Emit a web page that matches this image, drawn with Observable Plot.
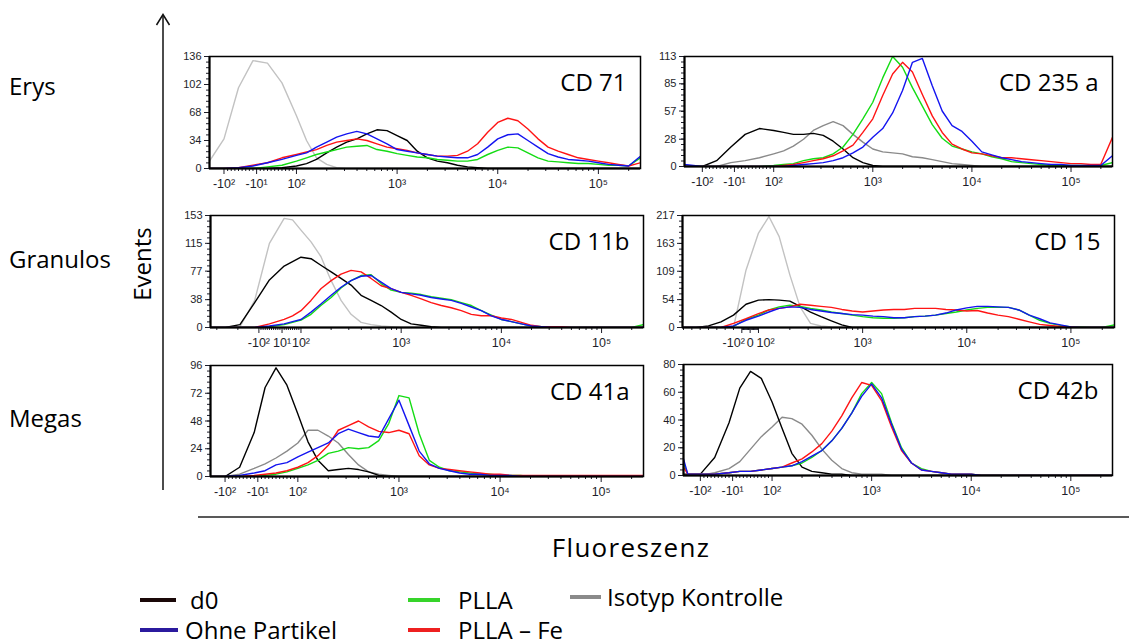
<!DOCTYPE html>
<html><head><meta charset="utf-8">
<script src="https://cdn.jsdelivr.net/npm/d3@7"></script>
<script src="https://cdn.jsdelivr.net/npm/@observablehq/plot@0.6"></script>
<style>
html,body{margin:0;padding:0;background:#fff;}
body{width:1129px;height:644px;overflow:hidden;position:relative;font-family:"Open Sans",sans-serif;}
.panel{position:absolute;}
#deco{position:absolute;left:0;top:0;}
</style></head><body>
<svg id="deco" width="1129" height="644"></svg>
<script>
// ---------- data ----------
// shared positive channel grid (fluorescence), 10^(2+0.1k) plus the upper end of the scale
const posGrid = [100,126,158,200,251,316,398,501,631,794,1000,1259,1585,1995,2512,3162,3981,5012,6310,7943,
  10000,12589,15849,19953,25119,31623,39811,50119,63096,79433,100000,125893,158489,199526,262144];
// low / negative channel grid of each panel
const negCD71  = [-140,-100,-60,-20,20,60];
const negCD235 = [-150,-100,-60,-20,20,60];
const negCD11  = [-330,-260,-190,-120,-50,20,60];
const negCD15  = [-812,-650,-500,-350,-200,-50];
const negCD41  = [-140,-100,-60,-20,10,40,70];
const negCD42  = [-147,-135,-100,-60,-20,10,40,70];

const seriesKeys   = ["iso","d0","plla","fe","ohne"];
const seriesLabels = ["Isotyp Kontrolle","d0","PLLA","PLLA – Fe","Ohne Partikel"];

// CD 71 (Erys)
const cd71_iso  = [9,36,98,131,128,104, 64,34,13,5,1,0,0,0,0,0, 0,0,0,0,0,0,0,0,0,0, 0,0,0,0,0,0,0,0,0,0, 0,0,0,0,0];
const cd71_d0   = [0,0,0,0,0,1, 3,6,11,19,26,32,36,42,47,46, 40,34,21,13,9,7,4,2,1,0, 0,0,0,0,0,0,0,0,0,0, 0,0,0,0,0];
const cd71_plla = [0,0,0,0,2,4, 9,13,17,20,23,26,27,28,23,21, 18,16,14,13,11,10,9,9,11,17, 22,26,25,19,13,9,8,7,6,6, 5,4,4,3,13];
const cd71_fe   = [0,0,1,4,7,13, 17,20,23,28,32,34,36,34,30,26, 24,22,19,17,15,15,16,21,30,44, 56,61,58,48,36,26,21,17,13,11, 9,7,5,3,7];
const cd71_ohne = [0,0,1,3,7,11, 16,19,26,32,38,42,45,42,36,30, 23,21,19,17,15,14,13,13,17,26, 36,41,42,34,26,18,14,11,10,9, 7,5,4,3,15];
// CD 235 a (Erys)
const cd235_iso  = [0,0,0,4,6,9, 13,16,21,28,37,42,46,42,33,25, 18,15,14,13,10,9,7,5,3,2, 1,0,0,0,0,0,0,0,0,0, 0,0,0,0,0];
const cd235_d0   = [0,0,6,20,33,39, 37,35,33,33,34,32,26,18,9,4, 1,0,0,0,0,0,0,0,0,0, 0,0,0,0,0,0,0,0,0,0, 0,0,0,0,0];
const cd235_plla = [0,0,0,0,0,0, 1,2,3,6,8,9,13,20,33,49, 66,91,113,102,81,62,43,29,21,18, 15,13,10,8,5,4,3,2,1,1, 1,1,1,1,4];
const cd235_fe   = [0,0,0,0,0,0, 0,1,2,4,6,8,11,16,22,35, 49,73,95,107,97,74,52,35,23,18, 14,13,11,9,9,8,7,6,5,4, 3,3,2,2,30];
const cd235_ohne = [2,0,0,0,0,0, 0,0,1,2,3,4,6,9,14,20, 30,39,55,78,107,111,83,57,42,36, 26,15,12,9,7,5,4,3,2,2, 1,1,1,1,11];
// CD 11b (Granulos)
const cd11_iso  = [0,0,1,37,115,149,147, 133,117,97,64,37,18,7,4,2,1, 0,0,0,0,0,0,0,0,0,0, 0,0,0,0,0,0,0,0,0,0, 0,0,0,0,0];
const cd11_d0   = [0,0,4,34,65,84,90, 96,94,85,76,67,58,44,37,30,21, 11,5,3,1,0,0,0,0,0,0, 0,0,0,0,0,0,0,0,0,0, 0,0,0,0,0];
const cd11_plla = [0,0,0,0,1,4,7, 10,18,30,41,54,64,71,72,60,51, 48,47,45,42,40,38,34,30,23,17, 11,8,5,2,1,1,0,0,0,0, 0,0,0,0,4];
const cd11_fe   = [0,0,0,0,5,11,16, 23,37,53,64,73,78,76,67,57,53, 48,44,39,34,30,27,23,18,16,16, 13,11,7,3,1,1,1,0,0,0, 0,0,0,0,0];
const cd11_ohne = [0,0,0,0,2,5,8, 11,21,32,44,55,64,70,71,62,53, 48,46,44,41,39,37,33,28,23,16, 11,8,5,2,1,0,0,0,0,0, 0,0,0,0,0];
// CD 15 (Granulos)
const cd15_iso  = [0,0,0,0,0,111, 183,215,176,102,40,8,3,1,0,0, 0,0,0,0,0,0,0,0,0,0, 0,0,0,0,0,0,0,0,0,0, 0,0,0,0,0];
const cd15_d0   = [0,0,3,11,24,45, 53,54,53,51,41,30,21,13,5,0, 0,0,0,0,0,0,0,0,0,0, 0,0,0,0,0,0,0,0,0,0, 0,0,0,0,0];
const cd15_plla = [0,0,0,0,2,16, 24,34,40,43,41,37,34,30,27,24, 21,19,18,18,19,21,22,24,27,30, 34,37,39,39,39,34,24,14,8,4, 1,1,0,0,5];
const cd15_fe   = [0,0,0,0,8,17, 27,34,37,40,45,43,41,39,35,32, 30,32,34,35,35,37,37,37,35,34, 32,33,28,24,21,16,11,6,4,2, 1,0,0,0,0];
const cd15_ohne = [0,0,0,0,3,14, 22,30,37,40,39,35,32,29,27,25, 24,22,21,19,19,21,22,24,28,34, 38,41,41,40,39,34,24,17,9,5, 1,0,0,0,0];
// CD 41a (Megas)
const cd41_iso  = [0,0,2,7,11,16,22, 29,40,40,35,29,19,10,4,2,1, 0,0,0,0,0,0,0,0,0,0, 0,0,0,0,0,0,0,0,0,0, 0,0,0,0,0];
const cd41_d0   = [0,0,8,38,77,94,79, 54,30,14,5,6,7,6,4,1,0, 0,0,0,0,0,0,0,0,0,0, 0,0,0,0,0,0,0,0,0,0, 0,0,0,0,0];
const cd41_plla = [0,0,0,0,1,2,4, 7,10,14,20,22,25,24,25,31,46, 70,68,37,14,8,5,4,3,2,2, 1,1,1,0,0,0,0,0,0,0, 0,0,0,0,0];
const cd41_fe   = [0,0,0,1,2,3,5, 8,12,18,27,40,44,48,43,39,38, 40,37,18,10,7,6,5,4,3,2, 2,1,1,1,1,1,1,1,1,1, 1,1,1,1,1];
const cd41_ohne = [0,0,1,3,5,10,12, 17,21,25,29,37,41,38,35,34,50, 66,44,22,11,7,5,3,2,2,1, 1,1,0,0,0,0,0,0,0,0, 0,0,0,0,0];
// CD 42b (Megas)
const cd42_iso  = [0,0,0,2,5,10,19,28, 35,42,41,37,29,19,11,5,2,1, 1,1,0,0,0,0,0,0,0,0, 0,0,0,0,0,0,0,0,0,0, 0,0,0,0,0];
const cd42_d0   = [1,1,1,13,38,63,75,70, 53,34,16,6,3,2,1,1,0,0, 0,0,0,0,0,0,0,0,0,0, 0,0,0,0,0,0,0,0,0,0, 0,0,0,0,0];
const cd42_plla = [9,1,1,1,2,3,3,4, 5,6,7,9,13,18,25,34,45,59, 67,59,38,20,9,5,3,2,1,1, 1,0,0,0,0,0,0,0,0,0, 0,0,0,0,0];
const cd42_fe   = [6,1,1,1,2,3,3,4, 5,6,9,12,17,23,32,43,56,67, 65,54,35,18,9,4,3,2,1,1, 1,0,0,0,0,0,0,0,0,0, 0,0,0,0,0];
const cd42_ohne = [12,1,1,1,2,3,3,4, 5,6,7,10,14,18,25,34,45,57, 66,56,37,19,9,4,3,2,1,1, 1,0,0,0,0,0,0,0,0,0, 0,0,0,0,0];

// axis ticks
const yTicksCD71 = [0,34,68,102,136];
const yTicksCD235 = [0,28,57,85,113];
const yTicksCD11 = [0,38,77,115,153];
const yTicksCD15 = [0,54,109,163,217];
const yTicksCD41 = [0,24,48,72,96];
const yTicksCD42 = [0,20,40,60,80];
const xTicksA = [-100,-10,100,1000,10000,100000];
const xLabelsA = ["-10²","-10¹","10²","10³","10⁴","10⁵"];
const xTicksB = [-100,10,100,1000,10000,100000];
const xLabelsB = ["-10²","10¹","10²","10³","10⁴","10⁵"];
const xTicksC = [-100,0,100,1000,10000,100000];
const xLabelsC = ["-10²","0","10²","10³","10⁴","10⁵"];
const xAnchorsC = ["end","middle","start","middle","middle","middle"];
const xMinorTicks = [-800,-700,-600,-500,-400,-300,-200,-90,-80,-70,-60,-50,-40,-30,-20,-10,0,10,20,30,40,50,60,70,80,90,
  200,300,400,500,600,700,800,900,2000,3000,4000,5000,6000,7000,8000,9000,
  20000,30000,40000,50000,60000,70000,80000,90000,200000];
const xMax = 262144;

// ---------- panels ----------
const lightGray = "#c2c2c2", darkGray = "#8a8a8a";
const colors = {d0:"#000000", ohne:"#1414f0", plla:"#14dc14", fe:"#ff1414"};
const panels = [
  {label:"CD 71", neg:negCD71, lin:0.0036, yTicks:yTicksCD71, xt:xTicksA, xl:xLabelsA, iso:lightGray,
   s:{iso:cd71_iso,d0:cd71_d0,plla:cd71_plla,fe:cd71_fe,ohne:cd71_ohne}, box:[209,56,640,168]},
  {label:"CD 235 a", neg:negCD235, lin:0.0036, yTicks:yTicksCD235, xt:xTicksA, xl:xLabelsA, iso:darkGray,
   s:{iso:cd235_iso,d0:cd235_d0,plla:cd235_plla,fe:cd235_fe,ohne:cd235_ohne}, box:[684,56,1112,166]},
  {label:"CD 11b", neg:negCD11, lin:0.0021, yTicks:yTicksCD11, xt:xTicksB, xl:xLabelsB, iso:lightGray,
   s:{iso:cd11_iso,d0:cd11_d0,plla:cd11_plla,fe:cd11_fe,ohne:cd11_ohne}, box:[210,215,643,327]},
  {label:"CD 15", neg:negCD15, lin:0.0008, yTicks:yTicksCD15, xt:xTicksC, xl:xLabelsC, xa:xAnchorsC, iso:lightGray,
   s:{iso:cd15_iso,d0:cd15_d0,plla:cd15_plla,fe:cd15_fe,ohne:cd15_ohne}, box:[682,215,1114,327]},
  {label:"CD 41a", neg:negCD41, lin:0.0036, yTicks:yTicksCD41, xt:xTicksA, xl:xLabelsA, iso:darkGray,
   s:{iso:cd41_iso,d0:cd41_d0,plla:cd41_plla,fe:cd41_fe,ohne:cd41_ohne}, box:[210,365,643,476]},
  {label:"CD 42b", neg:negCD42, lin:0.0036, yTicks:yTicksCD42, xt:xTicksA, xl:xLabelsA, iso:darkGray,
   s:{iso:cd42_iso,d0:cd42_d0,plla:cd42_plla,fe:cd42_fe,ohne:cd42_ohne}, box:[683,364,1112,475]}
];

const mL = 44, mT = 8, mR = 10, mB = 32;
const tickFont = "'Liberation Sans', Arial, sans-serif";

for (const p of panels) {
  // biexponential-like display: linear below 100, log above
  const T = v => v >= 100 ? Math.log10(v) : 2 - (100 - v) * p.lin;
  const xs = p.neg.concat(posGrid);
  const lines = [];
  for (const k of seriesKeys) {
    const vals = p.s[k];
    const pts = xs.map((x, i) => ({x, y: vals[i]})).filter(d => d.y !== undefined);
    lines.push(Plot.line(pts, {x: d => T(d.x), y: "y", stroke: k === "iso" ? p.iso : colors[k],
      strokeWidth: 1.4, clip: true}));
  }
  const x0 = T(p.neg[0]), x1 = T(xMax);
  const ymax = p.yTicks[p.yTicks.length - 1];
  const yMinor = d3.range(0, 21).map(i => ymax * i / 20);
  const minor = xMinorTicks.filter(v => T(v) > x0 && T(v) < x1 && !p.xt.includes(v)).map(T);
  const major = p.xt.map((v, i) => ({t: T(v), l: p.xl[i], a: p.xa ? p.xa[i] : "middle"}));
  const labelMarks = [["middle", 0], ["end", 3], ["start", -2]].map(([a, dx]) =>
    Plot.text(major.filter(d => d.a === a), {x: "t", text: "l", frameAnchor: "bottom", dy: 19, dx,
      textAnchor: a, fontSize: 12.5, fill: "#1e1e2a"}));
  const W = p.box[2] - p.box[0], H = p.box[3] - p.box[1];
  const svg = Plot.plot({
    width: W + mL + mR, height: H + mT + mB,
    marginLeft: mL, marginTop: mT, marginRight: mR, marginBottom: mB,
    x: {type: "linear", domain: [x0, x1]},
    y: {type: "linear", domain: [0, ymax]},
    style: {fontFamily: tickFont, fontSize: "11px", color: "#1e1e2a", background: "transparent", overflow: "visible"},
    marks: [
      Plot.axisY(p.yTicks, {anchor: "left", tickSize: 5, tickPadding: 3, fontSize: 11, label: null}),
      Plot.axisY(yMinor, {anchor: "left", tickSize: 3, tickFormat: () => "", label: null}),
      Plot.axisX(major.map(d => d.t), {anchor: "bottom", tickSize: 6, tickFormat: () => "", label: null}),
      Plot.axisX(minor, {anchor: "bottom", tickSize: 3, tickFormat: () => "", label: null}),
      ...labelMarks,
      ...lines,
      Plot.frame({stroke: "#000", strokeWidth: 1.5}),
      Plot.ruleY([0], {stroke: "#000", strokeWidth: 2}),
      Plot.ruleX([x0], {stroke: "#000", strokeWidth: 2}),
      Plot.text([p.label], {text: d => d, frameAnchor: "top-right", dx: -14, dy: 17, lineAnchor: "top",
        textAnchor: "end", fontSize: 24, fontFamily: "'Open Sans', sans-serif", fill: "#000"})
    ]
  });
  const div = document.createElement("div");
  div.className = "panel";
  div.style.left = (p.box[0] - mL) + "px";
  div.style.top = (p.box[1] - mT) + "px";
  div.appendChild(svg);
  document.body.appendChild(div);
}

// ---------- decorations: row labels, axis titles, arrow, legend ----------
const rowLabels = ["Erys", "Granulos", "Megas"];
const rowBaselines = [95, 268, 427];
const legendItems = [
  {label:"d0", color:"#1a0808", x1:140, x2:176, y:600, tx:190},
  {label:"Ohne Partikel", color:"#2b1a9e", x1:140, x2:178, y:630, tx:185},
  {label:"PLLA", color:"#36d42a", x1:408, x2:440, y:600, tx:458},
  {label:"PLLA – Fe", color:"#ee2020", x1:408, x2:440, y:630, tx:458},
  {label:"Isotyp Kontrolle", color:"#8a8a8a", x1:570, x2:601, y:597, tx:607}
];
const deco = d3.select("#deco");
const ff = "'Open Sans', sans-serif";
rowLabels.forEach((t, i) => deco.append("text").attr("x", 9).attr("y", rowBaselines[i])
  .attr("font-family", ff).attr("font-size", 24).text(t));
deco.append("text").attr("transform", "translate(151,264) rotate(-90)").attr("text-anchor", "middle")
  .attr("font-family", ff).attr("font-size", 24).text("Events");
deco.append("line").attr("x1", 163).attr("x2", 163).attr("y1", 490).attr("y2", 15)
  .attr("stroke", "#111").attr("stroke-width", 1.5);
deco.append("path").attr("d", "M156.5,25 L163,14.5 L169.5,25").attr("fill", "none")
  .attr("stroke", "#111").attr("stroke-width", 1.5);
deco.append("line").attr("x1", 198).attr("x2", 1129).attr("y1", 517).attr("y2", 517)
  .attr("stroke", "#222").attr("stroke-width", 1.5);
deco.append("text").attr("x", 631).attr("y", 557).attr("text-anchor", "middle")
  .attr("font-family", ff).attr("font-size", 26).attr("letter-spacing", "1.3px").text("Fluoreszenz");
legendItems.forEach(d => {
  deco.append("line").attr("x1", d.x1).attr("x2", d.x2).attr("y1", d.y).attr("y2", d.y)
    .attr("stroke", d.color).attr("stroke-width", 4);
  deco.append("text").attr("x", d.tx).attr("y", d.y + 8.5).attr("font-family", ff)
    .attr("font-size", 24).text(d.label);
});
</script>
</body></html>
